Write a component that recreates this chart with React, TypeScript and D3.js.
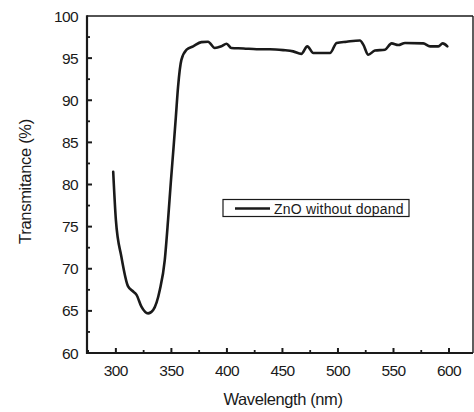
import React from "react";
import * as d3 from "d3";

const wavelength = [297.6, 300, 305, 311, 315.6, 318.6, 323, 329, 333.6, 339.6, 344, 347, 349.5, 352, 354, 356, 359, 363.7, 369.6, 377, 383, 389, 395, 399.7, 404, 415, 426.7, 438.7, 450.7, 459.7, 467, 472.4, 477.8, 492.8, 498.8, 507.8, 519.8, 522.8, 527.3, 533.3, 542.3, 548.3, 554.3, 560.4, 576.8, 582.9, 590.4, 594.3, 598.5];
const transmittance = [81.5, 75.8, 71.4, 67.9, 67.3, 66.9, 65.5, 64.7, 65.1, 67.5, 71, 75.8, 80.3, 84.5, 88, 91.6, 94.8, 96.0, 96.4, 96.9, 96.95, 96.2, 96.4, 96.7, 96.2, 96.15, 96.05, 96.05, 95.95, 95.8, 95.5, 96.4, 95.6, 95.6, 96.8, 96.95, 97.1, 96.6, 95.4, 95.9, 96.0, 96.75, 96.55, 96.8, 96.75, 96.4, 96.4, 96.75, 96.4];
const xTicks = [300, 350, 400, 450, 500, 550, 600];
const xMinorTicks = [275, 325, 375, 425, 475, 525, 575];
const yTicks = [60, 65, 70, 75, 80, 85, 90, 95, 100];
const yMinorTicks = [62.5, 67.5, 72.5, 77.5, 82.5, 87.5, 92.5, 97.5];
const seriesName = "ZnO without dopand";
const xTitle = "Wavelength (nm)";
const yTitle = "Transmitance (%)";

export default function App() {
  const left = 87, right = 473, top = 16, bottom = 353;
  const x = d3.scaleLinear().domain([274, 621.6]).range([left, right]);
  const y = d3.scaleLinear().domain([60, 100]).range([bottom, top]);
  const pts = wavelength.map((w, i) => [w, transmittance[i]] as [number, number]);
  const line = d3.line<[number, number]>().x(d => x(d[0])).y(d => y(d[1])).curve(d3.curveMonotoneX);
  const font = "'Liberation Sans', Arial, sans-serif";
  const ink = "#1a1a1a";
  return (
    <svg width={474} height={412} style={{ position: "absolute", left: 0, top: 0, background: "#fff" }} fontFamily={font}>
      <rect x={0} y={0} width={474} height={412} fill="#fff" />
      {/* frame */}
      <line x1={left} x2={right} y1={top} y2={top} stroke={ink} strokeWidth={1.6} />
      <line x1={right} x2={right} y1={top} y2={bottom} stroke={ink} strokeWidth={1.4} />
      <line x1={left} x2={left} y1={top - 0.8} y2={bottom + 1} stroke={ink} strokeWidth={2.2} />
      <line x1={left - 1} x2={right} y1={bottom} y2={bottom} stroke={ink} strokeWidth={2.2} />
      {/* y ticks */}
      {yTicks.map(t => (
        <g key={"y" + t}>
          {t > 60 && t < 100 && <line x1={left} x2={left + 5} y1={y(t)} y2={y(t)} stroke={ink} strokeWidth={2} />}
          <text x={78} y={y(t)} dy="0.36em" textAnchor="end" fontSize={15.5} fill={ink} letterSpacing={-0.6}>{t}</text>
        </g>
      ))}
      {yMinorTicks.map(t => (
        <line key={"ym" + t} x1={left} x2={left + 3} y1={y(t)} y2={y(t)} stroke={ink} strokeWidth={1.8} />
      ))}
      {/* x ticks */}
      {xTicks.map(t => (
        <g key={"x" + t}>
          <line x1={x(t)} x2={x(t)} y1={bottom} y2={bottom - 5} stroke={ink} strokeWidth={2} />
          <text x={x(t)} y={376} textAnchor="middle" fontSize={15.5} fill={ink} letterSpacing={-0.6}>{t}</text>
        </g>
      ))}
      {xMinorTicks.map(t => (
        <line key={"xm" + t} x1={x(t)} x2={x(t)} y1={bottom} y2={bottom - 3} stroke={ink} strokeWidth={1.8} />
      ))}
      {/* titles */}
      <text x={283} y={405} textAnchor="middle" fontSize={16.5} fill={ink} letterSpacing={-0.4}>{xTitle}</text>
      <text transform={`translate(31,${(103 + 260) / 2}) rotate(-90)`} textAnchor="middle" fontSize={16.5} fill={ink} letterSpacing={-0.3}>{yTitle}</text>
      {/* curve */}
      <path d={line(pts) || ""} fill="none" stroke={ink} strokeWidth={2.6} strokeLinejoin="round" strokeLinecap="round" />
      {/* legend */}
      <rect x={223} y={199.5} width={186} height={17} fill="#fff" stroke={ink} strokeWidth={1.2} />
      <line x1={235} x2={270} y1={208.5} y2={208.5} stroke={ink} strokeWidth={2.4} />
      <text x={274} y={213.5} fontSize={14} fill={ink} letterSpacing={0.2}>{seriesName}</text>
    </svg>
  );
}
